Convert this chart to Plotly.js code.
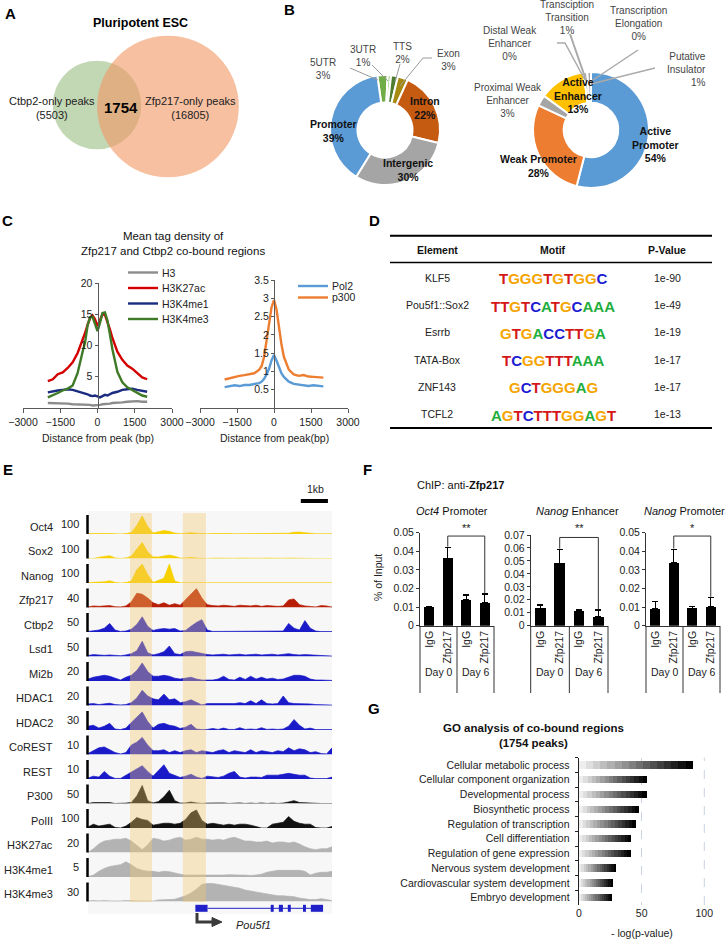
<!DOCTYPE html>
<html><head><meta charset="utf-8">
<script src="https://cdn.plot.ly/plotly-3.0.1.min.js"></script>
<style>body{margin:0;background:#fff}#chart{width:725px;height:940px}</style>
</head><body><div id="chart"></div>
<script>
// ================= DATA =================
// A - Venn
const vennLabels = ['Ctbp2-only peaks', 'Zfp217-only peaks'];
const vennOnly = [5503, 16805];
const vennShared = 1754;

// B - genomic annotation donut
const genomicLabels = ['5UTR', '3UTR', 'TTS', 'Exon', 'Intron', 'Intergenic', 'Promoter'];
const genomicPct = [3, 1, 2, 3, 22, 30, 39];
// B - chromatin state donut
const chromLabels = ['Active Promoter', 'Weak Promoter', 'Proximal Weak Enhancer', 'Active Enhancer',
  'Distal Weak Enhancer', 'Transciption Transition', 'Transcription Elongation', 'Putative Insulator'];
const chromPct = [54, 28, 3, 13, 0, 1, 0, 1];

// C - mean tag density
const cDist = [-2000,-1800,-1600,-1400,-1200,-1000,-800,-600,-500,-400,-300,-200,-100,0,100,200,300,400,500,600,800,1000,1200,1400,1600,1800,2000];
const h3 = [0.8,0.8,0.8,0.7,0.7,0.6,0.6,0.6,0.5,0.5,0.5,0.4,0.4,0.4,0.5,0.6,0.6,0.7,0.7,0.8,0.8,0.9,1.0,1.1,1.1,1.0,1.0];
const h3k27ac = [4.3,4.6,5.4,5.7,6.4,7.3,8.8,10.8,12.0,13.3,14.4,14.8,14.2,13.1,14.0,15.0,14.9,13.9,12.6,11.2,9.0,7.7,6.8,6.3,5.6,4.9,4.6];
const h3k4me1 = [2.5,2.7,2.8,2.9,3.0,2.9,2.7,2.5,2.3,2.2,2.0,1.9,2.0,1.8,1.7,1.9,2.1,2.0,2.2,2.4,2.6,2.9,3.0,3.1,2.9,2.8,2.6];
const h3k4me3 = [1.7,2.0,2.4,2.8,3.1,3.6,5.6,9.0,10.5,13.2,14.5,14.6,13.6,12.3,13.6,15.2,15.3,14.0,11.8,9.4,5.8,4.1,3.3,2.9,2.5,2.0,1.8];
const pol2 = [0.57,0.60,0.62,0.60,0.63,0.63,0.65,0.68,0.72,0.80,0.92,1.08,1.30,1.45,1.30,1.10,0.95,0.85,0.78,0.72,0.66,0.64,0.62,0.60,0.62,0.60,0.59];
const p300 = [0.78,0.82,0.85,0.88,0.90,0.92,0.95,1.05,1.15,1.40,1.80,2.30,2.75,2.95,2.70,2.20,1.75,1.40,1.20,1.05,0.92,0.88,0.90,0.86,0.85,0.84,0.83];
const cLeftNames = ['H3', 'H3K27ac', 'H3K4me1', 'H3K4me3'];
const cRightNames = ['Pol2', 'p300'];

// D - motifs
const motifElements = ['KLF5', 'Pou5f1::Sox2', 'Esrrb', 'TATA-Box', 'ZNF143', 'TCFL2'];
const motifSeqs = ['TGGGTGTGGC', 'TTGTCATGCAAA', 'GTGACCTTGA', 'TCGGTTTAAA', 'GCTGGGAG', 'AGTCTTTGGAGT'];
const motifPvals = ['1e-90', '1e-49', '1e-19', '1e-17', '1e-17', '1e-13'];

// E - genome browser tracks (position in kb, signal in track units)
const trackKb = [0,0.2,0.4,0.6,0.8,1,1.2,1.4,1.6,1.8,2,2.2,2.4,2.6,2.8,3,3.2,3.4,3.6,3.8,4,4.2,4.4,4.6,4.8,5,5.2,5.4,5.6,5.8,6,6.2,6.4,6.6,6.8,7,7.2,7.4,7.6,7.8,8,8.2,8.4,8.6,8.8,9];
const trackNames = ['Oct4','Sox2','Nanog','Zfp217','Ctbp2','Lsd1','Mi2b','HDAC1','HDAC2','CoREST','REST','P300','PolII','H3K27ac','H3K4me1','H3K4me3'];
const trackScales = [100,100,100,40,50,50,20,20,30,10,10,50,100,20,5,30];
const oct4Sig = [2,3,3,3,2,0,0,2,8,45,95,40,5,12,18,14,5,1,4,7,4,1,1,2,3,4,3,1,1,3,3,1,1,1,1,1,1,4,9,10,7,2,1,1,1,1];
const sox2Sig = [0,0,6,10,15,3,0,3,12,50,85,35,8,8,12,18,12,2,3,6,2,0,0,2,1,2,1,1,2,1,1,2,1,2,1,1,1,2,1,1,1,0,0,0,0,0];
const nanogSig = [2,3,4,6,12,3,0,2,10,70,100,45,3,12,25,100,10,1,2,3,1,1,1,1,2,4,2,1,1,1,1,1,1,1,1,1,1,1,2,4,3,1,1,1,1,1];
const zfp217Sig = [1.2,3.2,2.4,3.2,4,1.6,1.2,3.2,12,30,28,20,10,6,10,4.8,8,4.8,16,28,40,20,6,4,3.2,4.8,4,2.4,4.8,4,3.2,4.8,2.4,4,3.2,2.4,3.2,16,18,6,3.2,2.4,1.2,4,3.2,0.8];
const ctbp2Sig = [1.5,2.5,5,10,22.5,5,1.5,2.5,7.5,20,40,15,4,7.5,9,7.5,9,2.5,4,15,25,32.5,5,1.5,1.5,1.5,1.5,1.5,1.5,1.5,1.5,1.5,1.5,1.5,1.5,1.5,2.5,22.5,10,5,30,10,2.5,1,1,1];
const lsd1Sig = [2.5,5,4,3,4,2.5,2,4,7.5,15,40,10,4,7.5,12.5,27.5,7.5,5,12.5,14,11,7.5,5,4,5,6,4,5,6,4,5,6,4,5,6,4,5,7.5,5,4,5,4,2.5,1.5,1,1];
const mi2bSig = [2,4,5,6,5,3,1,4,6,11,19,10,5,5,6,5,3,2,3,4,2,1,1,1,2,5,1.6,1,4,1.6,5,2,4,2,3,1.6,2,4,6,6,5,2,1,1,1,0.6];
const hdac1Sig = [1.6,2,1,2,2.4,1,0.6,1,3,8,16,10,7,6,12,6,7,3,4,6,3,0.6,2,2,2,2.4,2,2,3,2,5,2,6,2,1.6,2,10,3,2,2,2,1.6,1,0.6,0.4,0.4];
const hdac2Sig = [6,7.5,3,6,10.5,1.5,0.6,3,12,21,28.5,13.5,3,9,10.5,7.5,6,2.4,4.5,9,1.5,0.6,0.9,2.4,0.9,3,0.9,0.9,3.6,0.9,1.5,0.9,3.6,0.9,1.5,0.9,1.5,6,16.5,7.5,1.5,3,0.6,0.6,0.6,0.6];
const corestSig = [0.5,2,3.5,4,2.5,1,0.3,1,5,6.5,9,5,2,2,2.5,1,2,1,2,2.5,1,2,1.5,1,2,2.5,1,2,1.5,1,2.5,1,2,1.5,1,2,1.5,3.5,2,3,2.5,1,1.5,0.5,0.3,3.5];
const restSig = [0.5,1.5,1,4,1.5,0.3,0.3,2,4,5.5,7,4,1.5,4.5,7.5,3,2,0.8,1.5,2.5,1,0.3,1.5,1,0.8,1.5,3,4,1,0.5,1,1,0.8,2,2,2,2.5,3,2.5,2,2,0.5,0.2,0.2,0.2,1];
const p300Sig = [0,2.5,2.5,2.5,2.5,0,0,1,2.5,20,47.5,7.5,1.5,5,17.5,35,7.5,1,1.5,4,1.5,0,1,1.5,1,1.5,0,1,1.5,0,1,0,1.5,0,1,0,1,4,7.5,2.5,1.5,1,0,0,0,0];
const pol2Sig = [5,20,10,15,20,3,0,10,30,55,45,40,15,20,25,25,20,25,45,80,95,40,20,25,20,15,20,15,20,20,15,8,0,0,20,25,30,60,35,25,20,20,2,0,0,8];
const h3k27acSig = [0,4,9,12,13,14,14,15,12,7,3,8,15,14,12,13,15,16,13,14,16,14,14,13,14,13,15,16,14,12,12,11,11,12,10,11,11,10,11,9,6,4,3,4,4,6];
const h3k4me1Sig = [0.1,0.5,1.5,2.25,2.75,3,3.25,4,3.25,2.25,1.75,1.5,1.5,1.25,1.5,1.4,1,0.75,0.5,0.5,0.4,0.5,0.5,0.4,0.4,0.5,0.6,0.5,0.5,0.5,0.4,0.5,0.75,1.25,1.5,1.75,1.75,1.75,1.75,1.75,1.5,0.5,1,1.25,1.25,1.5];
const h3k4me3Sig = [0.6,1.5,0.9,1.5,0.9,0.6,0.9,1.5,0.9,0.9,0.9,0.9,0.6,2.4,2.4,3,3.6,6,9,13.5,19.5,27,28.5,28.5,27,25.5,24,22.5,21,18,16.5,15,13.5,12,10.5,9,9,8.4,7.5,5.4,3.6,3,3,4.5,3,1.5];
const trackSignals = [oct4Sig,sox2Sig,nanogSig,zfp217Sig,ctbp2Sig,lsd1Sig,mi2bSig,hdac1Sig,hdac2Sig,corestSig,restSig,p300Sig,pol2Sig,h3k27acSig,h3k4me1Sig,h3k4me3Sig];
const highlightStartKb = [1.55, 3.5];
const highlightEndKb = [2.36, 4.35];
const exonStartKb = [3.96, 6.74, 7.04, 7.37, 7.93, 8.22];
const exonEndKb = [4.41, 6.85, 7.19, 7.48, 8.04, 8.67];
const geneName = 'Pou5f1';

// F - ChIP-qPCR
const fCategories = ['IgG', 'Zfp217', 'IgG', 'Zfp217'];
const fDays = ['Day 0', 'Day 6'];
const fTitles = ['<i>Oct4</i> Promoter', '<i>Nanog</i> Enhancer', '<i>Nanog</i> Promoter'];
const oct4Prom = [0.0098, 0.0362, 0.0138, 0.0124];
const oct4PromErr = [0.0003, 0.0057, 0.0027, 0.0046];
const nanogEnh = [0.0134, 0.0481, 0.0113, 0.0069];
const nanogEnhErr = [0.0025, 0.0108, 0.0008, 0.0052];
const nanogProm = [0.0090, 0.0339, 0.0093, 0.0102];
const nanogPromErr = [0.0039, 0.0071, 0.0009, 0.0050];
const fSignif = ['**', '**', '*'];
const fYMax = [0.05, 0.07, 0.05];

// G - GO analysis
const goTerms = ['Cellular metabolic process','Cellular component organization','Developmental process','Biosynthetic process','Regulation of transcription','Cell differentiation','Regulation of gene expression','Nervous system development','Cardiovascular system development','Embryo development'];
const goValues = [90.7, 54.5, 54.0, 48.0, 45.5, 41.5, 41.2, 29.5, 26.9, 26.3];

// ================= STYLE / HELPERS =================
const FONT = 'Liberation Sans, Arial, Helvetica, sans-serif';
const W = 725, H = 940;
const PX = v => v / W;
const PY = v => 1 - v / H;
const traces = [], ann = [], shapes = [];
const layout = {
  width: W, height: H, margin: {l:0, r:0, t:0, b:0},
  paper_bgcolor: '#fff', plot_bgcolor: 'rgba(0,0,0,0)',
  showlegend: false, hovermode: false, barmode: 'stack',
  font: {family: FONT, size: 10.5, color: '#222'}
};
function txt(x, y, text, size, opts) {
  opts = opts || {};
  const a = {xref:'paper', yref:'paper', x:PX(x), y:PY(y), text:text, showarrow:false,
    xanchor:'center', yanchor:'middle',
    font:{family:FONT, size:size||10.5, color:opts.color||'#222'}};
  delete opts.color;
  Object.assign(a, opts);
  ann.push(a);
}
function seg(x0, y0, x1, y1, color, width) {
  shapes.push({type:'line', xref:'paper', yref:'paper', x0:PX(x0), y0:PY(y0), x1:PX(x1), y1:PY(y1),
    line:{color:color||'#000', width:width||1}});
}
function pathPx(pts, color, width, fill) {
  const d = pts.map((p, i) => (i ? 'L' : 'M') + PX(p[0]) + ',' + PY(p[1])).join(' ') + (fill ? ' Z' : '');
  shapes.push({type:'path', xref:'paper', yref:'paper', path:d,
    line:{color:color, width:width}, fillcolor: fill || 'rgba(0,0,0,0)'});
}

// panel labels
[['A',10,13],['B',289,10],['C',8,220],['D',374,220],['E',8,469],['F',367,469],['G',374,708]]
  .forEach(p => txt(p[1], p[2], '<b>' + p[0] + '</b>', 15, {color:'#000'}));

// ================= A: Venn =================
txt(140, 23, '<b>Pluripotent ESC</b>', 12.5, {color:'#000'});
const vennK = 0.52; // px per sqrt(peak)
const rC = vennK * Math.sqrt(vennOnly[0] + vennShared);
const rZ = vennK * Math.sqrt(vennOnly[1] + vennShared);
const cC = [97, 105], cZ = [168, 106.5];
shapes.push({type:'circle', xref:'paper', yref:'paper', x0:PX(cC[0]-rC), x1:PX(cC[0]+rC), y0:PY(cC[1]+rC), y1:PY(cC[1]-rC), fillcolor:'#c2d7b3', line:{width:0}});
shapes.push({type:'circle', xref:'paper', yref:'paper', x0:PX(cZ[0]-rZ), x1:PX(cZ[0]+rZ), y0:PY(cZ[1]+rZ), y1:PY(cZ[1]-rZ), fillcolor:'rgba(240,150,98,0.6)', line:{width:0}});
txt(52, 108, vennLabels[0] + '<br>(' + vennOnly[0] + ')', 11);
txt(190, 108, vennLabels[1] + '<br>(' + vennOnly[1] + ')', 11);
txt(121, 107, '<b>' + vennShared + '</b>', 15, {color:'#000'});

// ================= B: donuts =================
const genomicColors = ['#70ad47', '#a9d18e', '#4e7d2f', '#a68a12', '#c55a11', '#a5a5a5', '#5b9bd5'];
const chromColors = ['#5b9bd5', '#ed7d31', '#a5a5a5', '#ffc000', '#8c8c8c', '#a5a5a5', '#8c8c8c', '#a5a5a5'];
traces.push({type:'pie', values:genomicPct, labels:genomicLabels, sort:false, direction:'clockwise', rotation:-8,
  hole:0.5, textinfo:'none', hoverinfo:'skip', marker:{colors:genomicColors, line:{color:'#fff', width:2}},
  domain:{x:[PX(330), PX(440)], y:[PY(185), PY(75)]}});
traces.push({type:'pie', values:chromPct, labels:chromLabels, sort:false, direction:'clockwise', rotation:0,
  hole:0.47, textinfo:'none', hoverinfo:'skip', marker:{colors:chromColors, line:{color:'#fff', width:2}},
  domain:{x:[PX(533), PX(649)], y:[PY(188), PY(72)]}});
const gl = (i) => genomicLabels[i] + '<br>' + genomicPct[i] + '%';
const cl = (i, name) => (name || chromLabels[i]) + '<br>' + chromPct[i] + '%';
// pie 1 labels
txt(333, 131, '<b>' + gl(6) + '</b>', 10.5, {color:'#111'});
txt(425, 108, '<b>' + gl(4) + '</b>', 10.5, {color:'#111'});
txt(408, 170, '<b>' + gl(5) + '</b>', 10.5, {color:'#111'});
txt(323, 69, gl(0), 10, {color:'#444'});
txt(363, 56, gl(1), 10, {color:'#444'});
txt(402, 53, gl(2), 10, {color:'#444'});
txt(448, 60, gl(3), 10, {color:'#444'});
seg(350, 68, 378, 80, '#9a9a9a', 1);
seg(372, 65, 388, 81, '#9a9a9a', 1);
seg(400, 64, 395, 82, '#9a9a9a', 1);
pathPx([[432,58],[423,58],[400,86]], '#9a9a9a', 1);
// pie 2 labels
txt(655, 144, '<b>' + cl(0, 'Active<br>Promoter') + '</b>', 10.5, {color:'#111'});
txt(538, 166, '<b>' + cl(1) + '</b>', 10.5, {color:'#111'});
txt(578, 95, '<b>' + cl(3, 'Active<br>Enhancer') + '</b>', 10.5, {color:'#111'});
txt(508, 101, cl(2, 'Proximal Weak<br>Enhancer'), 10, {color:'#444'});
txt(510, 43, cl(4, 'Distal Weak<br>Enhancer'), 10, {color:'#444'});
txt(567, 17, cl(5, 'Transciption<br>Transition'), 10, {color:'#444'});
txt(638, 23, cl(6, 'Transcription<br>Elongation'), 10, {color:'#444'});
txt(708, 69, cl(7, 'Putative<br>Insulator'), 10, {color:'#444', xanchor:'right', align:'right'});
pathPx([[557,43],[565,43],[585,80]], '#aaaaaa', 1.5);
seg(570, 34, 586, 80, '#aaaaaa', 2);
seg(638, 50, 590, 82, '#aaaaaa', 1.5);
seg(655, 68, 591, 84, '#aaaaaa', 1.5);

// ================= C: mean tag density =================
txt(173, 243, 'Mean tag density of<br>Zfp217 and Ctbp2 co-bound regions', 11.5, {color:'#111'});
const cLeftColors = ['#8c8c8c', '#d40000', '#1a2b80', '#3f7a26'];
const cLeftData = [h3, h3k27ac, h3k4me1, h3k4me3];
[0, 2, 1, 3].forEach(i => {
  traces.push({type:'scatter', mode:'lines', x:cDist, y:cLeftData[i], xaxis:'x2', yaxis:'y2',
    line:{color:cLeftColors[i], width:2.4}, hoverinfo:'skip'});
});
const cRightColors = ['#5b9bd5', '#ed7d31'];
[pol2, p300].forEach((d, i) => traces.push({type:'scatter', mode:'lines', x:cDist, y:d, xaxis:'x3', yaxis:'y3',
  line:{color:cRightColors[i], width:2.4}, hoverinfo:'skip'}));
const axBase = {showgrid:false, zeroline:false, showline:true, linecolor:'#595959', linewidth:1.3,
  ticks:'outside', tickcolor:'#595959', tickfont:{size:10.5, color:'#222'}, fixedrange:true};
layout.xaxis2 = Object.assign({}, axBase, {domain:[PX(23), PX(172)], range:[-3000, 3000], tickvals:[-3000,-1500,0,1500,3000], ticklen:4, anchor:'y2'});
layout.yaxis2 = Object.assign({}, axBase, {domain:[PY(408), PY(283)], range:[0, 20], tickvals:[5,10,15,20], ticklen:3, anchor:'free', position:PX(97.5)});
layout.xaxis3 = Object.assign({}, axBase, {domain:[PX(200), PX(348)], range:[-3000, 3000], tickvals:[-3000,-1500,0,1500,3000], ticklen:4, anchor:'y3'});
layout.yaxis3 = Object.assign({}, axBase, {domain:[PY(408), PY(280)], range:[0, 3.5], tickvals:[0.5,1,1.5,2,2.5,3,3.5], ticklen:3, anchor:'free', position:PX(274)});
txt(98, 438, 'Distance from peak (bp)', 10.5);
txt(274, 438, 'Distance from peak(bp)', 10.5);
// legends
cLeftNames.forEach((n, i) => {
  const y = 272.5 + 15.5 * i;
  seg(128, y, 158, y, cLeftColors[i], 2.4);
  txt(160, y, n, 10.5, {xanchor:'left'});
});
cRightNames.forEach((n, i) => {
  const y = 286 + 11.5 * i;
  seg(298, y, 328, y, cRightColors[i], 2.4);
  txt(330, y, n, 10.5, {xanchor:'left'});
});

// ================= D: motif table =================
seg(390, 235.7, 712, 235.7, '#000', 2);
seg(390, 262.5, 712, 262.5, '#000', 1.5);
seg(390, 428, 712, 428, '#000', 2);
txt(437, 250, '<b>Element</b>', 10.5, {color:'#111'});
txt(553, 250, '<b>Motif</b>', 10.5, {color:'#111'});
txt(667, 250, '<b>P-Value</b>', 10.5, {color:'#111'});
const baseColor = {A:'#1fae3c', C:'#1c1cd2', G:'#f5a400', T:'#d41818'};
motifElements.forEach((el, i) => {
  const y = 277.7 + 27.3 * i;
  txt(437, y, el, 10.5);
  txt(667, y, motifPvals[i], 10.5);
  const logo = motifSeqs[i].split('').map(c => '<span style="color:' + baseColor[c] + '">' + c + '</span>').join('');
  txt(553, y + 1, '<b>' + logo + '</b>', 15);
});

// ================= E: genome tracks =================
shapes.push({type:'rect', xref:'paper', yref:'paper', x0:PX(88), x1:PX(332), y0:PY(914), y1:PY(511), fillcolor:'#f7f7f7', line:{width:0}, layer:'below'});
const trackColors = ['#f7d000','#f7d000','#f7d000','#b81d05','#1a1ac8','#1a1ac8','#1a1ac8','#1a1ac8','#1a1ac8','#1a1ac8','#1a1ac8','#111111','#111111','#b3b3b3','#b3b3b3','#b3b3b3'];
layout.xaxis4 = {domain:[PX(88), PX(332)], range:[0, 9], visible:false, anchor:'y4', fixedrange:true};
trackNames.forEach((name, i) => {
  const id = 4 + i;
  const b = 534 + 24.5 * i;
  layout['yaxis' + id] = {domain:[PY(b), PY(b - 19)], anchor:'x4', range:[0, trackScales[i]], visible:false, fixedrange:true};
  traces.push({type:'scatter', mode:'lines', x:trackKb, y:trackSignals[i], xaxis:'x4', yaxis:'y' + id,
    fill:'tozeroy', fillcolor:trackColors[i], line:{color:trackColors[i], width:0.7}, hoverinfo:'skip'});
  txt(55, b - 7.5, name, 11, {xanchor:'right'});
  txt(81, b - 10, String(trackScales[i]), 11, {xanchor:'right'});
  seg(87.5, b - 19, 87.5, b, '#000', 2.5);
});
highlightStartKb.forEach((s, i) => shapes.push({type:'rect', xref:'x4', yref:'paper', x0:s, x1:highlightEndKb[i],
  y0:PY(902), y1:PY(513), fillcolor:'rgba(245,200,110,0.38)', line:{width:0}, layer:'above'}));
// scale bar
shapes.push({type:'line', xref:'x4', yref:'paper', x0:7.85, x1:8.85, y0:PY(501), y1:PY(501), line:{color:'#000', width:4}});
txt(315, 489, '1kb', 10.5);
// gene model
shapes.push({type:'line', xref:'x4', yref:'paper', x0:exonEndKb[0], x1:exonEndKb[exonEndKb.length-1], y0:PY(908.3), y1:PY(908.3), line:{color:'#2020c8', width:1}});
exonStartKb.forEach((s, i) => shapes.push({type:'rect', xref:'x4', yref:'paper', x0:s, x1:exonEndKb[i],
  y0:PY(911.8), y1:PY(904.8), fillcolor:'#2020c8', line:{width:0}}));
pathPx([[197,913],[197,922],[213,922]], '#3a3a3a', 3);
pathPx([[212,917.5],[222,922],[212,926.5]], '#3a3a3a', 1, '#3a3a3a');
txt(253, 925, '<i>' + geneName + '</i>', 11);

// ================= F: ChIP-qPCR =================
txt(415, 485, 'ChIP: anti-<b>Zfp217</b>', 11, {xanchor:'left', color:'#111'});
txt(378, 577, '% of Input', 10.5, {textangle:-90});
const fData = [oct4Prom, nanogEnh, nanogProm];
const fErr = [oct4PromErr, nanogEnhErr, nanogPromErr];
const fXDom = [[420, 494], [530.7, 608], [646, 720]];
const fYTop = [532.7, 535, 532.7];
const fTitleX = [452, 577, 684];
const fBracket = [[0.0425, 0.0482, 0.0174], [0.0595, 0.0681, 0.0124], [0.0415, 0.0482, 0.0155]];
fData.forEach((vals, s) => {
  const id = 20 + s;
  traces.push({type:'bar', x:[0,1,2,3], y:vals, xaxis:'x' + id, yaxis:'y' + id, width:0.55,
    marker:{color:'#000', line:{width:0}}, hoverinfo:'skip',
    error_y:{type:'data', symmetric:false, array:fErr[s], arrayminus:[0,0,0,0], color:'#000', thickness:1.3, width:3}});
  layout['xaxis' + id] = {domain:[PX(fXDom[s][0]), PX(fXDom[s][1])], range:[-0.5, 3.5], anchor:'y' + id,
    tickvals:[0,1,2,3], ticktext:fCategories, tickangle:-90, ticks:'', showline:true, linecolor:'#333', linewidth:1,
    showgrid:false, zeroline:false, tickfont:{size:10.5, color:'#222'}, fixedrange:true};
  layout['yaxis' + id] = {domain:[PY(625.7), PY(fYTop[s])], range:[0, fYMax[s]], dtick:0.01, anchor:'x' + id,
    showline:true, linecolor:'#333', linewidth:1, ticks:'outside', ticklen:3, tickcolor:'#333',
    showgrid:false, zeroline:false, tickfont:{size:10.5, color:'#222'}, fixedrange:true};
  txt(fTitleX[s], 511, fTitles[s], 11, {color:'#111'});
  // multi-level category dividers
  [0, 0.5, 1].forEach(f => shapes.push({type:'line', xref:'x' + id + ' domain', yref:'paper', x0:f, x1:f,
    y0:PY(626), y1:PY(693), line:{color:'#333', width:1}}));
  fDays.forEach((d, j) => ann.push({xref:'x' + id, yref:'paper', x:0.5 + 2 * j, y:PY(680), text:d, showarrow:false,
    font:{family:FONT, size:10.5, color:'#222'}}));
  const br = fBracket[s];
  shapes.push({type:'path', xref:'x' + id, yref:'y' + id,
    path:'M1,' + br[0] + ' L1,' + br[1] + ' L3,' + br[1] + ' L3,' + br[2], line:{color:'#333', width:1}});
  ann.push({xref:'x' + id, yref:'paper', x:2, y:PY(528), text:fSignif[s], showarrow:false,
    font:{family:FONT, size:11, color:'#222'}});
});

// ================= G: GO analysis =================
txt(533, 735, '<b>GO analysis of co-bound regions<br>(1754 peaks)</b>', 11.5, {color:'#111'});
const nSeg = 16;
for (let k = 0; k < nSeg; k++) {
  const g = Math.round(238 * (1 - k / (nSeg - 1)));
  traces.push({type:'bar', orientation:'h', y:goTerms, x:goValues.map(v => v / nSeg), xaxis:'x23', yaxis:'y23',
    width:0.5, marker:{color:'rgb(' + g + ',' + g + ',' + g + ')', line:{width:0}}, hoverinfo:'skip'});
}
layout.xaxis23 = {domain:[PX(579), PX(704.3)], range:[0, 100], tickvals:[0, 50, 100], anchor:'y23',
  showgrid:true, gridcolor:'#c9d2e3', griddash:'dash', gridwidth:1, zeroline:false, showline:false, ticks:'',
  tickfont:{size:10.5, color:'#222'}, fixedrange:true};
layout.yaxis23 = {domain:[PY(905), PY(757.7)], type:'category', autorange:'reversed', anchor:'x23',
  showline:true, linecolor:'#222', linewidth:1.5, ticks:'outside', tickson:'boundaries', ticklen:3, tickcolor:'#222',
  ticksuffix:'  ', showgrid:false, zeroline:false, tickfont:{size:10.5, color:'#222'}, fixedrange:true};
// gridline at the right edge (x = 100)
shapes.push({type:'line', xref:'x23 domain', yref:'y23 domain', x0:1, x1:1, y0:0, y1:1, layer:'below',
  line:{color:'#c9d2e3', width:1, dash:'dash'}});
txt(642, 933, '- log(p-value)', 10.5);

layout.annotations = ann;
layout.shapes = shapes;
Plotly.newPlot('chart', traces, layout, {staticPlot:true, displayModeBar:false});
</script>
</body></html>
